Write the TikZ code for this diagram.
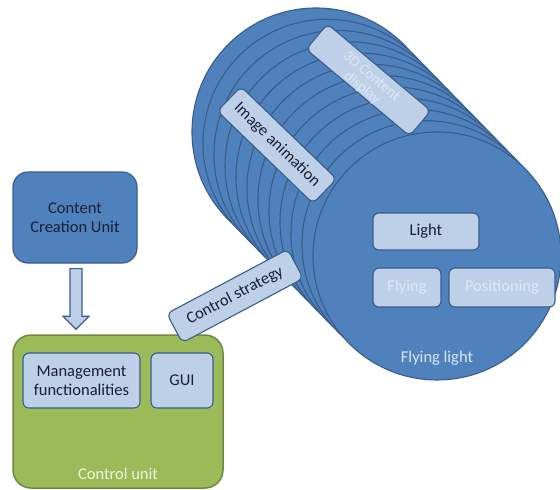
\documentclass[tikz,border=0pt]{standalone}
\usepackage{fontspec}
\setmainfont{Carlito}
\usetikzlibrary{calc}

\definecolor{unitblue}{RGB}{79,129,189}
\definecolor{unitline}{RGB}{56,93,138}
\definecolor{paleblue}{RGB}{190,208,232}
\definecolor{darktext}{RGB}{22,32,50}
\definecolor{softwhite}{RGB}{222,232,244}
\definecolor{cugreen}{RGB}{155,187,89}
\definecolor{culine}{RGB}{113,137,63}
\definecolor{cutext}{RGB}{238,244,226}

\tikzset{
  lbl/.style={font=\fontsize{16.5}{19}\selectfont},
  palebox/.style={lbl, draw=unitline, line width=1.1pt, fill=paleblue,
    rounded corners=6pt, text=darktext, inner sep=0pt, align=center},
  bluebox/.style={lbl, draw=unitline, line width=1.2pt, fill=unitblue,
    rounded corners=15pt, text=darktext, inner sep=0pt, align=center},
  greenbox/.style={draw=culine, fill=cugreen, line width=1.5pt,
    rounded corners=18pt, inner sep=0pt},
  disc/.style={draw=unitline, fill=unitblue, line width=1.1pt},
  blockarrow/.style={draw=unitline, fill=paleblue, line width=1.1pt,
    line join=miter},
}

\begin{document}
\begin{tikzpicture}[x=1pt,y=-1pt]
\useasboundingbox (0,0) rectangle (560,490);

% stack of discs forming the flying light, back to front
\foreach \i in {0,...,11}{
  \draw[disc] ({316+11*\i},{132+11.27*\i}) circle[radius=124pt];
}
\coordinate (flc) at (437,256);
\node[lbl, text=softwhite] (fltxt) at (437,358) {Flying light};

% boxes on the front disc
\node[palebox, minimum width=106pt, minimum height=37pt] (light) at (426,231.5) {Light};
\node[palebox, text=softwhite, minimum width=68pt, minimum height=39pt] (flying) at (407,287.5) {Flying};
\node[palebox, text=softwhite, minimum width=106pt, minimum height=39pt] (pos) at (502,287.5) {Positioning};

% labels lying across the stack
\node[palebox, rotate=-44, minimum width=133pt, minimum height=34pt] (imganim) at (277,145) {Image animation};
\node[palebox, rotate=-40, minimum width=135pt, minimum height=33pt] (disp) at (368.5,80) {};
\node[text=softwhite, rotate=-40, inner sep=0pt, align=center,
      font=\fontsize{15}{15}\selectfont] (disptxt)
      at ($(disp.center)!3pt!(disp.south)$) {3D Content\\display};

% control unit
\node[greenbox, minimum width=210pt, minimum height=153pt] (cu) at (118,411.5) {};
\node[lbl, text=cutext] (cutxt) at (118,474) {Control unit};
\node[palebox, minimum width=117pt, minimum height=55pt] (mgmt) at (81.5,380.5) {Management\\functionalities};
\node[palebox, minimum width=62pt, minimum height=55pt] (gui) at (182,380.5) {GUI};

% content creation unit
\node[bluebox, minimum width=124pt, minimum height=91pt] (ccu) at (75,217.5) {Content\\Creation Unit};

% control strategy link
\node[palebox, rotate=28, minimum width=137pt, minimum height=33pt] (cs) at (235,296) {Control strategy};

% block arrow from the content creation unit to the control unit
\coordinate (atop) at ($(ccu.south)+(1,5)$);
\coordinate (atip) at (atop |- cu.north);
\draw[blockarrow]
  ($(atop)+(-6,0)$) -- ($(atop)+(6,0)$) -- ($(atip)+(6,-18)$) -- ($(atip)+(13,-18)$)
  -- ($(atip)+(0,-5)$) -- ($(atip)+(-13,-18)$) -- ($(atip)+(-6,-18)$) -- cycle;
\end{tikzpicture}
\end{document}
